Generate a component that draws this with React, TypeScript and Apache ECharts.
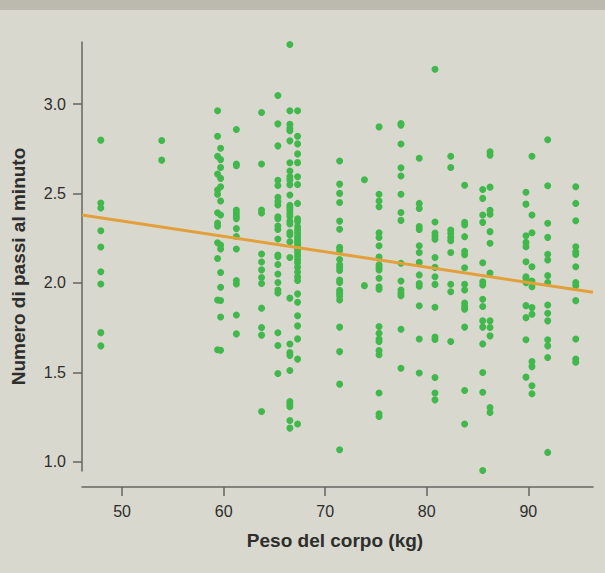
import React, { useEffect, useRef } from "react";
import * as echarts from "echarts";

// Peso corporeo (kg) di ciascun gruppo di soggetti
const pesi = [47.9, 53.9, 59.4, 59.7, 61.25, 63.73, 65.34, 66.52, 67.28, 71.42, 73.86, 75.3, 77.46, 79.26, 80.81, 82.36, 83.73, 85.51, 86.23, 89.77, 90.36, 91.91, 94.67];

// Numero di passi al minuto per ciascun gruppo di peso
const passi479 = [2.799, 2.447, 2.419, 2.292, 2.201, 2.063, 1.994, 1.722, 1.648];
const passi539 = [2.797, 2.687];
const passi594 = [2.963, 2.821, 2.709, 2.609, 2.52, 2.496, 2.393, 2.335, 2.318, 2.225, 2.137, 1.905, 1.626];
const passi597 = [2.754, 2.69, 2.646, 2.585, 2.538, 2.458, 2.38, 2.212, 2.19, 2.058, 1.976, 1.902, 1.81, 1.623];
const passi612 = [2.858, 2.665, 2.656, 2.408, 2.391, 2.374, 2.36, 2.304, 2.26, 2.19, 2.014, 1.994, 1.821, 1.715];
const passi637 = [2.954, 2.665, 2.408, 2.391, 2.162, 2.117, 2.073, 2.031, 1.997, 1.859, 1.751, 1.708, 1.281];
const passi653 = [3.049, 2.89, 2.767, 2.575, 2.545, 2.479, 2.456, 2.436, 2.37, 2.359, 2.318, 2.299, 2.246, 2.156, 2.147, 2.103, 2.05, 2.003, 1.961, 1.944, 1.721, 1.65, 1.493];
const passi665 = [3.334, 2.963, 2.887, 2.864, 2.852, 2.795, 2.672, 2.626, 2.595, 2.578, 2.55, 2.492, 2.434, 2.419, 2.405, 2.389, 2.373, 2.345, 2.33, 2.284, 2.268, 2.23, 2.142, 1.915, 1.658, 1.611, 1.595, 1.51, 1.337, 1.322, 1.307, 1.231, 1.188];
const passi673 = [2.963, 2.821, 2.778, 2.722, 2.673, 2.594, 2.551, 2.445, 2.359, 2.344, 2.315, 2.296, 2.279, 2.261, 2.246, 2.231, 2.218, 2.203, 2.184, 2.169, 2.151, 2.131, 2.113, 2.088, 2.061, 2.035, 2.014, 1.939, 1.892, 1.817, 1.76, 1.687, 1.574, 1.211];
const passi714 = [2.682, 2.553, 2.501, 2.45, 2.346, 2.3, 2.199, 2.182, 2.131, 2.101, 2.086, 2.07, 2.017, 2.003, 1.959, 1.942, 1.927, 1.905, 1.753, 1.616, 1.434, 1.067];
const passi739 = [2.577, 1.985];
const passi753 = [2.873, 2.496, 2.458, 2.426, 2.281, 2.254, 2.208, 2.145, 2.101, 2.087, 2.073, 2.026, 1.979, 1.965, 1.756, 1.719, 1.686, 1.672, 1.622, 1.598, 1.384, 1.268, 1.253];
const passi775 = [2.892, 2.883, 2.777, 2.644, 2.598, 2.496, 2.394, 2.35, 2.11, 2.011, 1.961, 1.944, 1.929, 1.741, 1.523];
const passi793 = [2.698, 2.445, 2.417, 2.315, 2.299, 2.208, 2.17, 2.115, 2.045, 1.997, 1.982, 1.872, 1.686, 1.496];
const passi808 = [3.196, 2.341, 2.279, 2.261, 2.244, 2.142, 2.087, 2.035, 1.992, 1.864, 1.697, 1.684, 1.471, 1.384, 1.346];
const passi824 = [2.709, 2.646, 2.296, 2.278, 2.255, 2.236, 2.17, 1.993, 1.951, 1.672];
const passi837 = [2.547, 2.339, 2.324, 2.259, 2.177, 2.158, 2.085, 1.993, 1.961, 1.887, 1.868, 1.853, 1.753, 1.398, 1.211];
const passi855 = [2.523, 2.473, 2.38, 2.339, 2.113, 2.007, 1.989, 1.909, 1.868, 1.788, 1.753, 1.659, 1.499, 1.389, 0.951];
const passi862 = [2.734, 2.715, 2.536, 2.406, 2.384, 2.287, 2.222, 2.056, 1.788, 1.751, 1.704, 1.303, 1.275];
const passi898 = [2.507, 2.441, 2.264, 2.227, 2.203, 2.119, 2.035, 2.026, 2.002, 1.873, 1.806, 1.682, 1.473];
const passi904 = [2.709, 2.38, 2.281, 2.091, 2.011, 1.979, 1.862, 1.825, 1.56, 1.532, 1.425, 1.38];
const passi919 = [2.801, 2.544, 2.334, 2.255, 2.16, 2.128, 2.041, 2.002, 1.877, 1.831, 1.788, 1.682, 1.648, 1.583, 1.052];
const passi947 = [2.538, 2.445, 2.348, 2.203, 2.175, 2.159, 2.091, 2.002, 1.985, 1.901, 1.686, 1.575, 1.557];

const gruppiPassi = [
  passi479, passi539, passi594, passi597, passi612, passi637, passi653, passi665,
  passi673, passi714, passi739, passi753, passi775, passi793, passi808, passi824,
  passi837, passi855, passi862, passi898, passi904, passi919, passi947,
];

// Retta di regressione: estremi sul dominio dell'asse del peso
const retta = [
  [46.05, 2.38],
  [96.37, 1.948],
];

// Tacche e etichette degli assi
const tacchePeso = [50, 60, 70, 80, 90];
const tacchePassi = [1.0, 1.5, 2.0, 2.5, 3.0];

const FONT = "'Liberation Sans', Arial, Helvetica, sans-serif";
const AXIS_COLOR = "#666660";
const TEXT_COLOR = "#2e2e2c";

export default function App() {
  const ref = useRef<HTMLDivElement>(null);

  useEffect(() => {
    if (!ref.current) return;
    const chart = echarts.init(ref.current, null, { renderer: "svg" });

    const punti: number[][] = [];
    pesi.forEach((peso, i) => {
      gruppiPassi[i].forEach((v) => punti.push([peso, v]));
    });

    chart.setOption({
      animation: false,
      backgroundColor: "#d8d8cf",
      grid: { left: 82, right: 12, top: 42, bottom: 102, containLabel: false },
      xAxis: {
        type: "value",
        min: 46.05,
        max: 96.37,
        offset: 16,
        splitLine: { show: false },
        axisLine: { show: true, lineStyle: { color: AXIS_COLOR, width: 1.5 } },
        axisTick: {
          show: true,
          length: 9,
          customValues: tacchePeso,
          lineStyle: { color: AXIS_COLOR, width: 1.5 },
        },
        axisLabel: {
          customValues: tacchePeso,
          fontSize: 16,
          color: TEXT_COLOR,
          fontFamily: FONT,
          margin: 16,
        },
      },
      yAxis: {
        type: "value",
        min: 0.948,
        max: 3.348,
        splitLine: { show: false },
        axisLine: { show: true, lineStyle: { color: AXIS_COLOR, width: 1.5 } },
        axisTick: {
          show: true,
          length: 9,
          customValues: tacchePassi,
          lineStyle: { color: AXIS_COLOR, width: 1.5 },
        },
        axisLabel: {
          customValues: tacchePassi,
          formatter: (v: number) => v.toFixed(1),
          fontSize: 16,
          color: TEXT_COLOR,
          fontFamily: FONT,
          margin: 16,
        },
      },
      graphic: [
        {
          type: "rect",
          left: 0,
          top: 0,
          shape: { x: 0, y: 0, width: 605, height: 10 },
          style: { fill: "#bcbaae" },
          silent: true,
        },
        {
          type: "text",
          x: 335,
          y: 540,
          style: {
            text: "Peso del corpo (kg)",
            fontSize: 19,
            fontWeight: "bold",
            fontFamily: FONT,
            fill: TEXT_COLOR,
            align: "center",
            verticalAlign: "middle",
          },
        },
        {
          type: "text",
          x: 18,
          y: 266.5,
          rotation: Math.PI / 2,
          style: {
            text: "Numero di passi al minuto",
            fontSize: 19,
            fontWeight: "bold",
            fontFamily: FONT,
            fill: TEXT_COLOR,
            align: "center",
            verticalAlign: "middle",
          },
        },
      ],
      series: [
        {
          type: "scatter",
          data: punti,
          symbol: "circle",
          symbolSize: 7,
          itemStyle: { color: "#41b84b", opacity: 1 },
          z: 2,
        },
        {
          type: "line",
          data: retta,
          showSymbol: false,
          lineStyle: { color: "#e3a03a", width: 3 },
          z: 3,
        },
      ],
    });

    return () => chart.dispose();
  }, []);

  return (
    <div
      ref={ref}
      style={{ position: "fixed", left: 0, top: 0, width: 605, height: 573 }}
    />
  );
}
